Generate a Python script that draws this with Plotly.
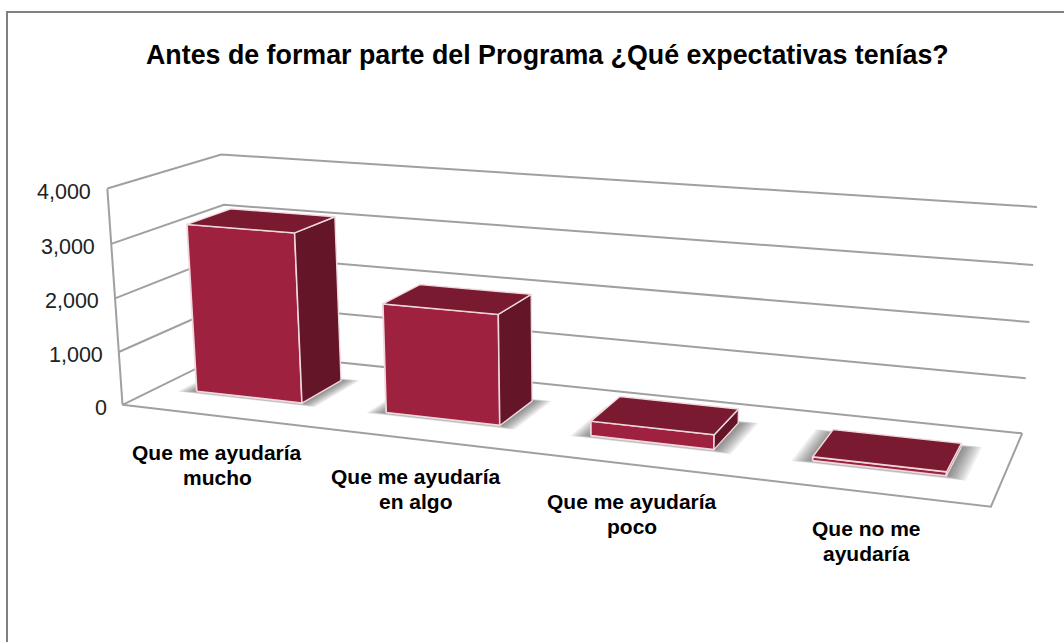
import numpy as np
import plotly.graph_objects as go

categories = [["Que me ayudaría", "mucho"], ["Que me ayudaría", "en algo"],
              ["Que me ayudaría", "poco"], ["Que no me", "ayudaría"]]
values = [3180, 2020, 265, 70]
tick_values = [0, 1000, 2000, 3000, 4000]
tick_labels = ["0", "1,000", "2,000", "3,000", "4,000"]
title = "Antes de formar parte del Programa ¿Qué expectativas tenías?"

Y_MAX = 4000
# camera calibration: world (category, depth, value) -> picture position
CAL_WORLD = [(0, 0, 0), (0, 0, 4000), (0, 1, 0), (0, 1, 4000),
             (4, 1, 0), (4, 1, 4000), (4, 0, 0), (0, 0, 3000), (4, 1, 3000), (4, 1, 1000)]
CAL_IMG = [(122, 404), (107, 189), (232, 352), (221, 154),
           (1022, 433), (1037, 207), (991, 507), (112, 244), (1033, 265), (1026, 378)]
A, b = [], []
for (X, Y, Z), (u, v) in zip(CAL_WORLD, CAL_IMG):
    Z = Z / Y_MAX
    A.append([X, Y, Z, 1, 0, 0, 0, 0, -u * X, -u * Y, -u * Z]); b.append(u)
    A.append([0, 0, 0, 0, X, Y, Z, 1, -v * X, -v * Y, -v * Z]); b.append(v)
h = np.linalg.lstsq(np.array(A, float), np.array(b, float), rcond=None)[0]
P = np.append(h, 1.0).reshape(3, 4)


def proj(x, y, z):
    p = P @ np.array([x, y, z / Y_MAX, 1.0])
    return p[0] / p[2], p[1] / p[2]


def path(points):
    xy = [proj(*p) for p in points]
    return [q[0] for q in xy], [q[1] for q in xy]


fig = go.Figure()


def poly(points, fill, line=None, width=0):
    xs, ys = path(points + points[:1])
    fig.add_trace(go.Scatter(x=xs, y=ys, mode="lines", fill="toself", fillcolor=fill,
                             line=dict(color=line or "rgba(0,0,0,0)", width=width),
                             hoverinfo="skip", showlegend=False))


# frame of the 3D plot
gx, gy = [], []
for t in tick_values:
    xs, ys = path([(0, 0, t), (0, 1, t), (4, 1, t)])
    gx += xs + [None]; gy += ys + [None]
xs, ys = path([(0, 0, 0), (0, 0, Y_MAX)]); gx += xs + [None]; gy += ys + [None]
xs, ys = path([(0, 0, 0), (4, 0, 0), (4, 1, 0)]); gx += xs + [None]; gy += ys + [None]
fig.add_trace(go.Scatter(x=gx, y=gy, mode="lines", line=dict(color="#A0A0A0", width=2),
                         hoverinfo="skip", showlegend=False))

BAR_L, BAR_R, D0, D1 = 0.21, 0.775, 0.31, 0.71
FRONT, TOP, SIDE, EDGE = "#9E213F", "#7A1A30", "#641527", "#EFD9DD"
for i, val in enumerate(values):
    x0, x1 = i + BAR_L, i + BAR_R
    # soft shadow on the floor
    n = 10
    for k in range(n):
        f = 1 - k / n
        ex, ey = 0.085 * f, 0.035 * f
        poly([(x0 - ex, D0 - ey, 0), (x1 + ex, D0 - ey, 0), (x1 + ex, D1 + ey, 0), (x0 - ex, D1 + ey, 0)],
             "rgba(60,60,60,0.075)")
    poly([(x0, D0, 0), (x1, D0, 0), (x1, D0, val), (x0, D0, val)], FRONT, EDGE, 1.8)
    poly([(x1, D0, 0), (x1, D1, 0), (x1, D1, val), (x1, D0, val)], SIDE, EDGE, 1.4)
    poly([(x0, D0, val), (x1, D0, val), (x1, D1, val), (x0, D1, val)], TOP, EDGE, 1.4)

ann = [dict(x=547.5, y=55, text="<b>%s</b>" % title, showarrow=False, xanchor="center", yanchor="middle",
            font=dict(family="Liberation Sans", size=26.8, color="#000000"))]
for t, lab in zip(tick_values, tick_labels):
    px, py = proj(0, 0, t)
    ann.append(dict(x=px - 14, y=py + 3, text=lab, showarrow=False, xanchor="right", yanchor="middle",
                    font=dict(family="Liberation Sans", size=21.5, color="#222222")))
LABEL_POS = [(217, 465), (416, 489), (632, 514), (866, 541)]
LINE_STEP = 25
for lines, (lx, ly) in zip(categories, LABEL_POS):
    for j, line in enumerate(lines):
        ann.append(dict(x=lx, y=ly + (j - 0.5) * LINE_STEP, text="<b>%s</b>" % line, showarrow=False,
                        xanchor="center", yanchor="middle",
                        font=dict(family="Liberation Sans", size=21, color="#000000")))

fig.update_layout(
    width=1064, height=642, margin=dict(l=0, r=0, t=0, b=0), autosize=False,
    paper_bgcolor="#FFFFFF", plot_bgcolor="#FFFFFF", showlegend=False,
    xaxis=dict(range=[0, 1064], visible=False, fixedrange=True),
    yaxis=dict(range=[642, 0], visible=False, fixedrange=True),
    annotations=ann,
    shapes=[dict(type="rect", x0=7, y0=12, x1=1100, y1=700, line=dict(color="#808080", width=2))],
)
fig.write_html("out.html", config={"displayModeBar": False},
               post_script="document.body.style.margin='0';document.documentElement.style.overflow='hidden';")
